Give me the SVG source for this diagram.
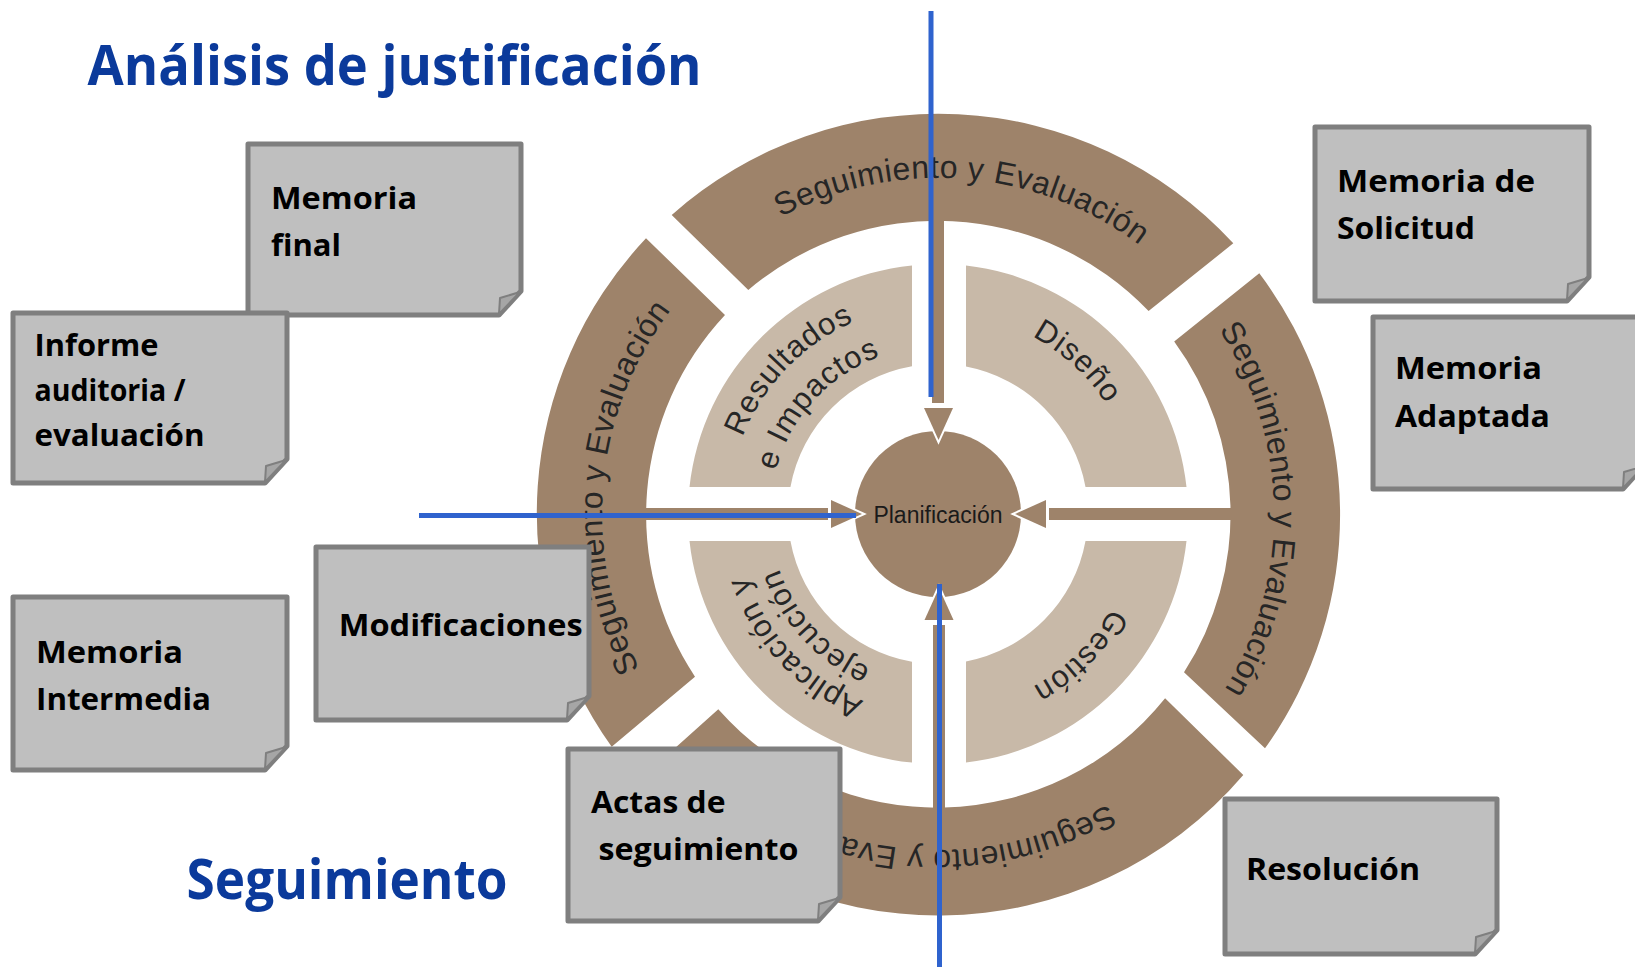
<svg xmlns="http://www.w3.org/2000/svg" width="1635" height="967" viewBox="0 0 1635 967">
<style>
.seg{fill:#9E836A}
.quad{fill:#C8B9A8}
.stem{fill:#9E836A}
.head{fill:#9E836A;stroke:#ffffff;stroke-width:4;paint-order:stroke;stroke-linejoin:miter}
.ringtxt{font-family:"Liberation Sans",Arial,sans-serif;font-size:32px;fill:#262626;letter-spacing:0.5px}
.qtxt{font-family:"Liberation Sans",Arial,sans-serif;font-size:31px;fill:#262626;letter-spacing:1px}
.ctxt{font-family:"Liberation Sans",Arial,sans-serif;font-size:23px;fill:#1a1a1a}
.box{fill:#BFBFBF;stroke:#7F7F7F;stroke-width:5;stroke-linejoin:round}
.fold{fill:#A6A6A6;stroke:#7F7F7F;stroke-width:2;stroke-linejoin:round}
.btxt{font-family:"Open Sans","Liberation Sans",sans-serif;font-weight:700;font-size:30px;fill:#000000}
.title{font-family:"Open Sans","Liberation Sans",sans-serif;font-weight:700;font-size:56px;fill:#0B3A9B}
.blue{stroke:#2F63CE;stroke-width:5;fill:none}
</style>
<defs>
<path id="pTop" d="M603.55,546.2 A336,336 0 1 1 1263.3,598.1"/>
<path id="pRight" d="M874.75,184 A336,336 0 1 1 884.57,845.7"/>
<path id="pBottom" d="M1270.7,467.24 A336,336 0 1 1 609.34,444.14"/>
<path id="pLeft" d="M967.29,848.72 A336,336 0 1 1 1024.96,189.45"/>
<path id="pDis" d="M768.48,406 A201,201 0 1 1 1060.36,673.46"/>
<path id="pGes" d="M1051,352.63 A197,197 0 1 1 776.63,627"/>
<path id="pRes" d="M820.57,688.1 A210,210 0 1 1 1107.89,390.56"/>
<path id="pImp" d="M847.73,655.69 A168,168 0 1 1 1071.28,411.73"/>
<path id="pApl" d="M1098.53,634.97 A201,201 0 1 1 828.53,345.43"/>
<path id="pEje" d="M1071.28,616.27 A168,168 0 1 1 847.73,372.31"/>
</defs>
<rect width="1635" height="967" fill="#ffffff"/>

<g id="ring-top">
<path class="seg" d="M671.7,215 A401,401 0 0 1 1233.3,243.3 L1148.6,311.1 A292.5,292.5 0 0 0 748.3,290 Z"/>
<text class="ringtxt"><textPath href="#pTop" startOffset="50%" text-anchor="middle">Seguimiento y Evaluación</textPath></text>
</g>
<g id="ring-right">
<path class="seg" d="M1259.3,273.3 A401,401 0 0 1 1265,748.3 L1184,672.3 A292.5,292.5 0 0 0 1174.2,341.4 Z"/>
<text class="ringtxt"><textPath href="#pRight" startOffset="50%" text-anchor="middle">Seguimiento y Evaluación</textPath></text>
</g>
<g id="ring-bottom">
<path class="seg" d="M1243.3,775 A401,401 0 0 1 638.6,780.7 L718.3,709.3 A292.5,292.5 0 0 0 1165.1,698.3 Z"/>
<text class="ringtxt"><textPath href="#pBottom" startOffset="50%" text-anchor="middle">Seguimiento y Evaluación</textPath></text>
</g>
<g id="ring-left">
<path class="seg" d="M611.7,746.7 A401,401 0 0 1 646,238.3 L725,315 A292.5,292.5 0 0 0 695,676.7 Z"/>
<text class="ringtxt"><textPath href="#pLeft" startOffset="50%" text-anchor="middle">Seguimiento y Evaluación</textPath></text>
</g>

<g id="q-diseno">
<path class="quad" d="M966,265.6 A250,250 0 0 1 1186.5,487 L1085.5,487 A150,150 0 0 0 966,366.6 Z"/>
<text class="qtxt"><textPath href="#pDis" startOffset="50%" text-anchor="middle">Diseño</textPath></text>
</g>
<g id="q-gestion">
<path class="quad" d="M1186.5,541 A250,250 0 0 1 966,762.4 L966,661.4 A150,150 0 0 0 1085.5,541 Z"/>
<text class="qtxt"><textPath href="#pGes" startOffset="50%" text-anchor="middle">Gestión</textPath></text>
</g>
<g id="q-aplicacion">
<path class="quad" d="M912,762.6 A250,250 0 0 1 689.5,541 L790.45,541 A150,150 0 0 0 912,661.7 Z"/>
<text class="qtxt"><textPath href="#pApl" startOffset="50%" text-anchor="middle">Aplicación y</textPath></text>
<text class="qtxt"><textPath href="#pEje" startOffset="50%" text-anchor="middle">ejecución</textPath></text>
</g>
<g id="q-resultados">
<path class="quad" d="M689.5,487 A250,250 0 0 1 912,265.4 L912,366.3 A150,150 0 0 0 790.45,487 Z"/>
<text class="qtxt"><textPath href="#pRes" startOffset="50%" text-anchor="middle">Resultados</textPath></text>
<text class="qtxt"><textPath href="#pImp" startOffset="50%" text-anchor="middle">e Impactos</textPath></text>
</g>

<g id="connectors">
<rect class="stem" x="932" y="220" width="12" height="183"/>
<rect class="stem" x="933" y="625" width="12" height="183"/>
<rect class="stem" x="644" y="508" width="184" height="12"/>
<rect class="stem" x="1049" y="508" width="184" height="12"/>
</g>

<g id="planificacion">
<circle cx="938" cy="514" r="83" fill="#9E836A"/>
<text class="ctxt" x="938" y="523" text-anchor="middle">Planificación</text>
</g>

<g id="arrowheads">
<polygon class="head" points="924,408 953,408 938.5,440"/>
<polygon class="head" points="924.5,620 953.5,620 939,588"/>
<polygon class="head" points="831,500 831,528 862,514"/>
<polygon class="head" points="1046,500 1046,528 1015,514"/>
</g>

<g id="box-memoria-final">
<path class="box" d="M248,144 H521 V291 L499,315 H248 Z"/>
<path class="fold" d="M520,292 L500,298 L499,314 Z"/>
<text class="btxt" x="271" y="208.5" textLength="146" lengthAdjust="spacingAndGlyphs">Memoria</text>
<text class="btxt" x="271" y="255.5" textLength="70" lengthAdjust="spacingAndGlyphs">final</text>
</g>
<g id="box-informe">
<path class="box" d="M13,313 H287 V459 L265,483 H13 Z"/>
<path class="fold" d="M286,460 L266,466 L265,482 Z"/>
<text class="btxt" x="34.5" y="356" textLength="124" lengthAdjust="spacingAndGlyphs">Informe</text>
<text class="btxt" x="34.5" y="401" textLength="151" lengthAdjust="spacingAndGlyphs">auditoria /</text>
<text class="btxt" x="34.5" y="446" textLength="170" lengthAdjust="spacingAndGlyphs">evaluación</text>
</g>
<g id="box-solicitud">
<path class="box" d="M1315,127 H1589 V277 L1567,301 H1315 Z"/>
<path class="fold" d="M1588,278 L1568,284 L1567,300 Z"/>
<text class="btxt" x="1337" y="191.5" textLength="198" lengthAdjust="spacingAndGlyphs">Memoria de</text>
<text class="btxt" x="1337" y="239" textLength="138" lengthAdjust="spacingAndGlyphs">Solicitud</text>
</g>
<g id="box-adaptada">
<path class="box" d="M1373,317 H1645 V465 L1623,489 H1373 Z"/>
<path class="fold" d="M1644,466 L1624,472 L1623,488 Z"/>
<text class="btxt" x="1395" y="379" textLength="147" lengthAdjust="spacingAndGlyphs">Memoria</text>
<text class="btxt" x="1395" y="426.5" textLength="155" lengthAdjust="spacingAndGlyphs">Adaptada</text>
</g>
<g id="box-intermedia">
<path class="box" d="M13,597 H287 V746 L265,770 H13 Z"/>
<path class="fold" d="M286,747 L266,753 L265,769 Z"/>
<text class="btxt" x="36" y="663" textLength="147" lengthAdjust="spacingAndGlyphs">Memoria</text>
<text class="btxt" x="36" y="710" textLength="175" lengthAdjust="spacingAndGlyphs">Intermedia</text>
</g>
<g id="box-modificaciones">
<path class="box" d="M316,547 H589 V696 L567,720 H316 Z"/>
<path class="fold" d="M588,697 L568,703 L567,719 Z"/>
<text class="btxt" x="338.7" y="636" textLength="244" lengthAdjust="spacingAndGlyphs">Modificaciones</text>
</g>
<g id="box-actas">
<path class="box" d="M568,749 H840 V897 L818,921 H568 Z"/>
<path class="fold" d="M839,898 L819,904 L818,920 Z"/>
<text class="btxt" x="591" y="812.5" textLength="134.5" lengthAdjust="spacingAndGlyphs">Actas de</text>
<text class="btxt" x="598.5" y="860" textLength="200" lengthAdjust="spacingAndGlyphs">seguimiento</text>
</g>
<g id="box-resolucion">
<path class="box" d="M1225,799 H1497 V930 L1475,954 H1225 Z"/>
<path class="fold" d="M1496,931 L1476,937 L1475,953 Z"/>
<text class="btxt" x="1246" y="880" textLength="174" lengthAdjust="spacingAndGlyphs">Resolución</text>
</g>

<g id="axes">
<line class="blue" x1="931" y1="11" x2="931" y2="397"/>
<line class="blue" x1="419" y1="515.5" x2="856" y2="515.5"/>
<line class="blue" x1="939.5" y1="584" x2="939.5" y2="967"/>
</g>

<g id="titles">
<text class="title" x="87.6" y="85" textLength="614" lengthAdjust="spacingAndGlyphs">Análisis de justificación</text>
<text class="title" x="186.6" y="899" textLength="321" lengthAdjust="spacingAndGlyphs">Seguimiento</text>
</g>
</svg>
